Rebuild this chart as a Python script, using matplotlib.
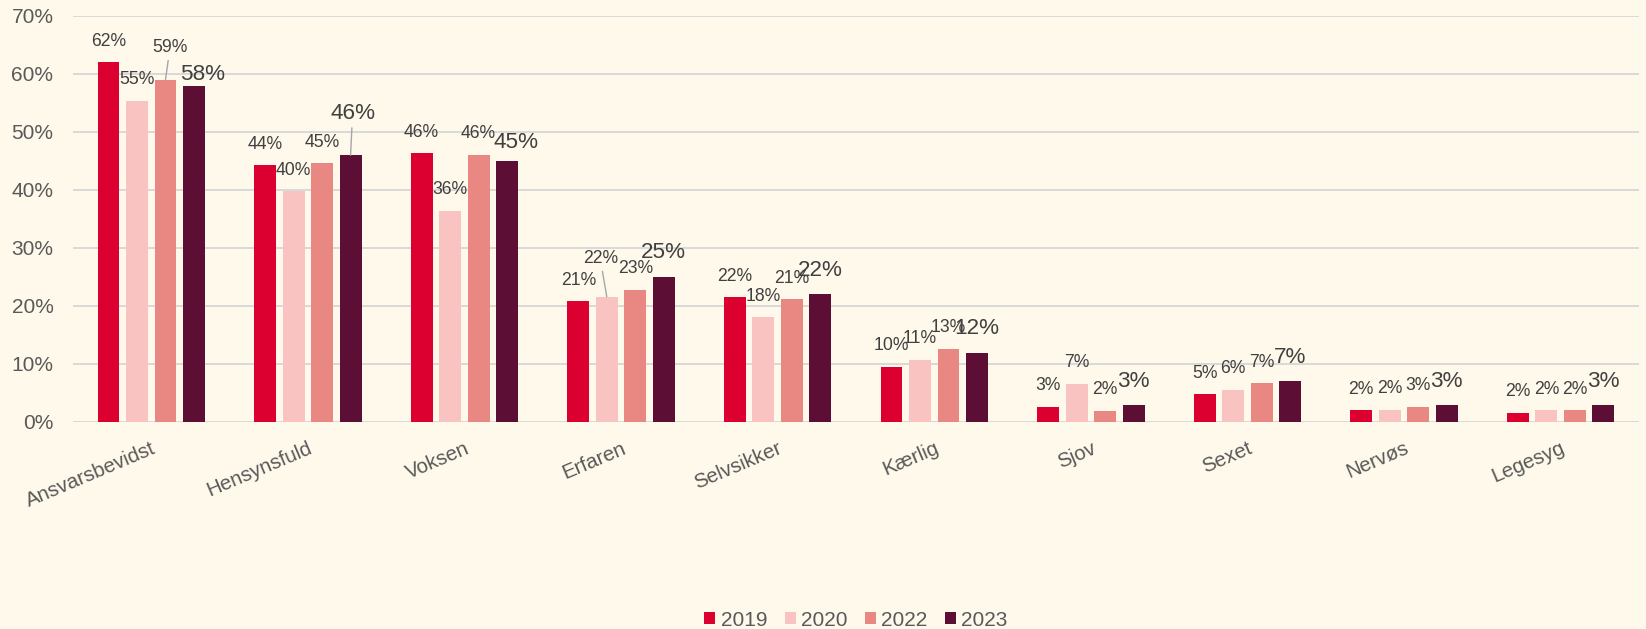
import matplotlib.pyplot as plt
import numpy as np

# data (percent)
categories = ["Ansvarsbevidst", "Hensynsfuld", "Voksen", "Erfaren", "Selvsikker",
              "Kærlig", "Sjov", "Sexet", "Nervøs", "Legesyg"]
years = ["2019", "2020", "2022", "2023"]
v2019 = [62.0, 44.3, 46.3, 20.8, 21.5, 9.5, 2.6, 4.8, 2.0, 1.6]
v2020 = [55.4, 39.8, 36.4, 21.6, 18.1, 10.7, 6.6, 5.6, 2.1, 2.0]
v2022 = [59.0, 44.6, 46.1, 22.8, 21.2, 12.6, 1.9, 6.7, 2.6, 2.0]
v2023 = [58.0, 46.0, 45.0, 25.0, 22.0, 11.9, 2.9, 7.0, 2.9, 2.9]
yticks = [0, 10, 20, 30, 40, 50, 60, 70]

colors = ["#DC0030", "#F8C3C0", "#E98883", "#5C0E35"]
bg = "#FFF9EB"

# label offsets in pixels (dx, dy, leader line) where the label was moved by hand
moved = {
    (0, 2): (4.5, 32, True),
    (0, 3): (9, 11, False),
    (1, 3): (2, 42, True),
    (2, 3): (9, 18, False),
    (3, 1): (-6.5, 38, True),
}

plt.rcParams['font.family'] = ['Liberation Sans', 'DejaVu Sans']

fig = plt.figure(figsize=(16.46, 6.29), dpi=100, facecolor=bg)
ax = fig.add_axes([0.0443, 0.3291, 0.9514, 0.6455])
ax.set_facecolor(bg)

x = np.arange(len(categories))
series = [v2019, v2020, v2022, v2023]
step = 0.182
width = 0.14

for i, (vals, col) in enumerate(zip(series, colors)):
    xs = x + (i - 1.5) * step
    ax.bar(xs, vals, width, color=col, label=years[i], zorder=3)
    big = i == 3
    for j, (xx, v) in enumerate(zip(xs, vals)):
        dx, dy, lead = moved.get((j, i), (0, 24 if big else 21, False))
        arrow = dict(arrowstyle='-', color='#A6A6A6', lw=1.0, shrinkA=1, shrinkB=0) if lead else None
        ax.annotate(f"{v:.0f}%", xy=(xx, v), xytext=(dx, dy), textcoords='offset pixels',
                    ha='center', va='center', fontsize=16.2 if big else 12.7,
                    color='#404040', arrowprops=arrow, zorder=4)

ax.set_xlim(-0.5, len(categories) - 0.5)
ax.set_ylim(0, 70)
ax.set_yticks(yticks)
ax.set_yticklabels([f"{t}%" for t in yticks])
ax.set_xticks(x)
ax.set_xticklabels(categories, rotation=23, ha='right', rotation_mode='anchor')
ax.tick_params(axis='y', length=0, pad=14, labelsize=15, labelcolor='#595959')
ax.tick_params(axis='x', length=0, pad=12, labelsize=14.8, labelcolor='#595959')
ax.grid(axis='y', color='#D9D9D9', lw=1.4, zorder=0)
for s in ax.spines.values():
    s.set_visible(False)

ax.legend(loc='center', bbox_to_anchor=(0.52, 0.0143), bbox_transform=fig.transFigure,
          ncol=4, frameon=False, fontsize=15, handlelength=0.52, handleheight=0.52,
          handletextpad=0.25, columnspacing=0.85, labelcolor='#595959')

fig.savefig("out.png", dpi=100, facecolor=bg)
